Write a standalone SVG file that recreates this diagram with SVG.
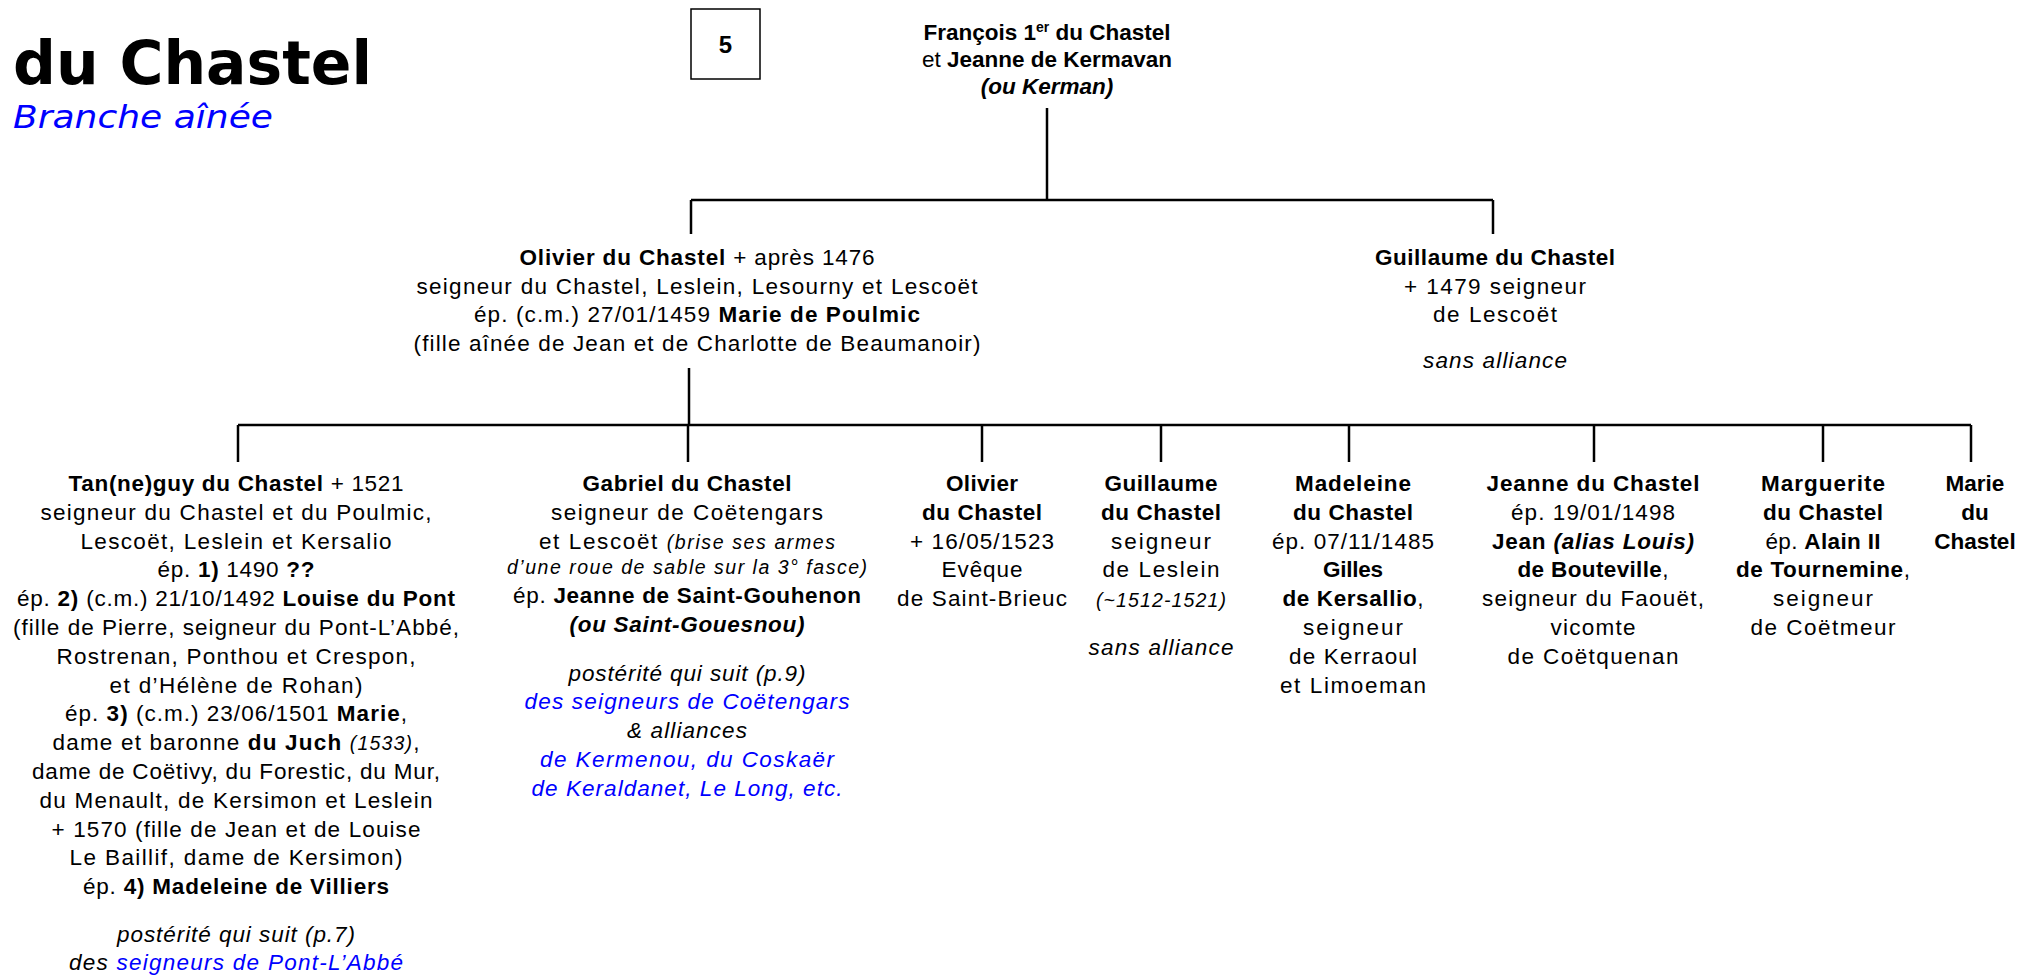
<svg xmlns="http://www.w3.org/2000/svg" width="2022" height="975" viewBox="0 0 2022 975">
<style>
.t{font-family:"Liberation Sans",Arial,sans-serif;font-size:22.5px;text-anchor:middle;fill:#000}
.b{font-weight:bold}
.i{font-style:italic}
.s{font-size:19.5px}
.bl{fill:#0000ff}
.ln{stroke:#000;stroke-width:2.5;fill:none}
</style>
<rect width="2022" height="975" fill="#fff"/>
<g id="title">
<text x="13" y="84" font-family="DejaVu Sans, sans-serif" font-weight="bold" font-size="60" textLength="359" lengthAdjust="spacingAndGlyphs">du Chastel</text>
<text x="13" y="128" font-family="DejaVu Sans, sans-serif" font-style="italic" font-size="32" fill="#0000ff" textLength="260" lengthAdjust="spacingAndGlyphs">Branche aînée</text>
</g>
<g id="page-number">
<rect x="691" y="9" width="69" height="70" fill="#fff" stroke="#000" stroke-width="1.5"/>
<text class="t b" x="725.5" y="53" style="font-size:24px">5</text>
</g>
<g id="connectors" class="ln">
<line x1="1047" y1="108" x2="1047" y2="200"/>
<line x1="691" y1="200" x2="1493" y2="200"/>
<line x1="691" y1="200" x2="691" y2="234"/>
<line x1="1493" y1="200" x2="1493" y2="234"/>
<line x1="689" y1="368" x2="689" y2="425"/>
<line x1="238" y1="425" x2="1971" y2="425"/>
<line x1="238" y1="425" x2="238" y2="462"/>
<line x1="688" y1="425" x2="688" y2="462"/>
<line x1="982" y1="425" x2="982" y2="462"/>
<line x1="1161" y1="425" x2="1161" y2="462"/>
<line x1="1349" y1="425" x2="1349" y2="462"/>
<line x1="1594" y1="425" x2="1594" y2="462"/>
<line x1="1823" y1="425" x2="1823" y2="462"/>
<line x1="1971" y1="425" x2="1971" y2="462"/>
</g>
<g id="francois">
<text class="t b" x="1047" y="40">François 1<tspan dy="-8" style="font-size:14px">er</tspan><tspan dy="8"> du Chastel</tspan></text>
<text class="t" x="1047" y="67">et <tspan class="b">Jeanne de Kermavan</tspan></text>
<text class="t b i" x="1047" y="94">(ou Kerman)</text>
</g>
<g id="olivier-1476">
<text class="t" x="697" y="265" textLength="355"><tspan class="b">Olivier du Chastel</tspan> + après 1476</text>
<text class="t" x="697" y="293.5" textLength="561">seigneur du Chastel, Leslein, Lesourny et Lescoët</text>
<text class="t" x="697" y="322" textLength="446">ép. (c.m.) 27/01/1459 <tspan class="b">Marie de Poulmic</tspan></text>
<text class="t" x="697" y="350.5" textLength="567">(fille aînée de Jean et de Charlotte de Beaumanoir)</text>
</g>
<g id="guillaume-1479">
<text class="t b" x="1495" y="265" textLength="240">Guillaume du Chastel</text>
<text class="t" x="1495" y="293.5" textLength="182">+ 1479 seigneur</text>
<text class="t" x="1495" y="322" textLength="124">de Lescoët</text>
<text class="t i" x="1495" y="368" textLength="144">sans alliance</text>
</g>
<g id="tanneguy">
<text class="t" x="236" y="491" textLength="335"><tspan class="b">Tan(ne)guy du Chastel</tspan> + 1521</text>
<text class="t" x="236" y="519.8" textLength="391">seigneur du Chastel et du Poulmic,</text>
<text class="t" x="236" y="548.6" textLength="311">Lescoët, Leslein et Kersalio</text>
<text class="t" x="236" y="577.4" textLength="157">ép. <tspan class="b">1)</tspan> 1490 <tspan class="b">??</tspan></text>
<text class="t" x="236" y="606.2" textLength="438">ép. <tspan class="b">2)</tspan> (c.m.) 21/10/1492 <tspan class="b">Louise du Pont</tspan></text>
<text class="t" x="236" y="635" textLength="446">(fille de Pierre, seigneur du Pont-L’Abbé,</text>
<text class="t" x="236" y="663.8" textLength="359">Rostrenan, Ponthou et Crespon,</text>
<text class="t" x="236" y="692.6" textLength="253">et d’Hélène de Rohan)</text>
<text class="t" x="236" y="721.4" textLength="342">ép. <tspan class="b">3)</tspan> (c.m.) 23/06/1501 <tspan class="b">Marie</tspan>,</text>
<text class="t" x="236" y="750.2" textLength="367">dame et baronne <tspan class="b">du Juch</tspan> <tspan class="i s">(1533)</tspan>,</text>
<text class="t" x="236" y="779" textLength="408">dame de Coëtivy, du Forestic, du Mur,</text>
<text class="t" x="236" y="807.8" textLength="393">du Menault, de Kersimon et Leslein</text>
<text class="t" x="236" y="836.6" textLength="369">+ 1570 (fille de Jean et de Louise</text>
<text class="t" x="236" y="865.4" textLength="333">Le Baillif, dame de Kersimon)</text>
<text class="t" x="236" y="894.2" textLength="306">ép. <tspan class="b">4) Madeleine de Villiers</tspan></text>
<text class="t i" x="236" y="942" textLength="238">postérité qui suit (p.7)</text>
<text class="t i" x="236" y="970" textLength="334">des <tspan class="bl">seigneurs de Pont-L’Abbé</tspan></text>
</g>
<g id="gabriel">
<text class="t b" x="687" y="491" textLength="209">Gabriel du Chastel</text>
<text class="t" x="687" y="519.8" textLength="272">seigneur de Coëtengars</text>
<text class="t" x="687" y="548.6" textLength="296">et Lescoët <tspan class="i s">(brise ses armes</tspan></text>
<text class="t i s" x="687" y="574" textLength="360">d’une roue de sable sur la 3° fasce)</text>
<text class="t" x="687" y="603" textLength="348">ép. <tspan class="b">Jeanne de Saint-Gouhenon</tspan></text>
<text class="t b i" x="687" y="632" textLength="235">(ou Saint-Gouesnou)</text>
<text class="t i" x="687" y="681" textLength="237">postérité qui suit (p.9)</text>
<text class="t i bl" x="687" y="709" textLength="325">des seigneurs de Coëtengars</text>
<text class="t i" x="687" y="738" textLength="120">&amp; alliances</text>
<text class="t i bl" x="687" y="767" textLength="294">de Kermenou, du Coskaër</text>
<text class="t i bl" x="687" y="796" textLength="311">de Keraldanet, Le Long, etc.</text>
</g>
<g id="olivier-eveque">
<text class="t b" x="982" y="491" textLength="72">Olivier</text>
<text class="t b" x="982" y="519.8" textLength="120">du Chastel</text>
<text class="t" x="982" y="548.6" textLength="144">+ 16/05/1523</text>
<text class="t" x="982" y="577.4" textLength="81">Evêque</text>
<text class="t" x="982" y="606.2" textLength="170">de Saint-Brieuc</text>
</g>
<g id="guillaume-leslein">
<text class="t b" x="1161" y="491" textLength="113">Guillaume</text>
<text class="t b" x="1161" y="519.8" textLength="120">du Chastel</text>
<text class="t" x="1161" y="548.6" textLength="100">seigneur</text>
<text class="t" x="1161" y="577.4" textLength="117">de Leslein</text>
<text class="t i s" x="1161" y="607" textLength="130">(~1512-1521)</text>
<text class="t i" x="1161" y="655" textLength="145">sans alliance</text>
</g>
<g id="madeleine">
<text class="t b" x="1353" y="491" textLength="116">Madeleine</text>
<text class="t b" x="1353" y="519.8" textLength="120">du Chastel</text>
<text class="t" x="1353" y="548.6" textLength="162">ép. 07/11/1485</text>
<text class="t b" x="1353" y="577.4" textLength="60">Gilles</text>
<text class="t" x="1353" y="606.2" textLength="141"><tspan class="b">de Kersallio</tspan>,</text>
<text class="t" x="1353" y="635" textLength="100">seigneur</text>
<text class="t" x="1353" y="663.8" textLength="128">de Kerraoul</text>
<text class="t" x="1353" y="692.6" textLength="146">et Limoeman</text>
</g>
<g id="jeanne">
<text class="t b" x="1593" y="491" textLength="213">Jeanne du Chastel</text>
<text class="t" x="1593" y="519.8" textLength="164">ép. 19/01/1498</text>
<text class="t b" x="1593" y="548.6" textLength="202">Jean <tspan class="i">(alias Louis)</tspan></text>
<text class="t" x="1593" y="577.4" textLength="151"><tspan class="b">de Bouteville</tspan>,</text>
<text class="t" x="1593" y="606.2" textLength="222">seigneur du Faouët,</text>
<text class="t" x="1593" y="635" textLength="85">vicomte</text>
<text class="t" x="1593" y="663.8" textLength="171">de Coëtquenan</text>
</g>
<g id="marguerite">
<text class="t b" x="1823" y="491" textLength="124">Marguerite</text>
<text class="t b" x="1823" y="519.8" textLength="120">du Chastel</text>
<text class="t" x="1823" y="548.6" textLength="115">ép. <tspan class="b">Alain II</tspan></text>
<text class="t" x="1823" y="577.4" textLength="174"><tspan class="b">de Tournemine</tspan>,</text>
<text class="t" x="1823" y="606.2" textLength="100">seigneur</text>
<text class="t" x="1823" y="635" textLength="145">de Coëtmeur</text>
</g>
<g id="marie">
<text class="t b" x="1975" y="491">Marie</text>
<text class="t b" x="1975" y="519.8">du</text>
<text class="t b" x="1975" y="548.6">Chastel</text>
</g>
</svg>
